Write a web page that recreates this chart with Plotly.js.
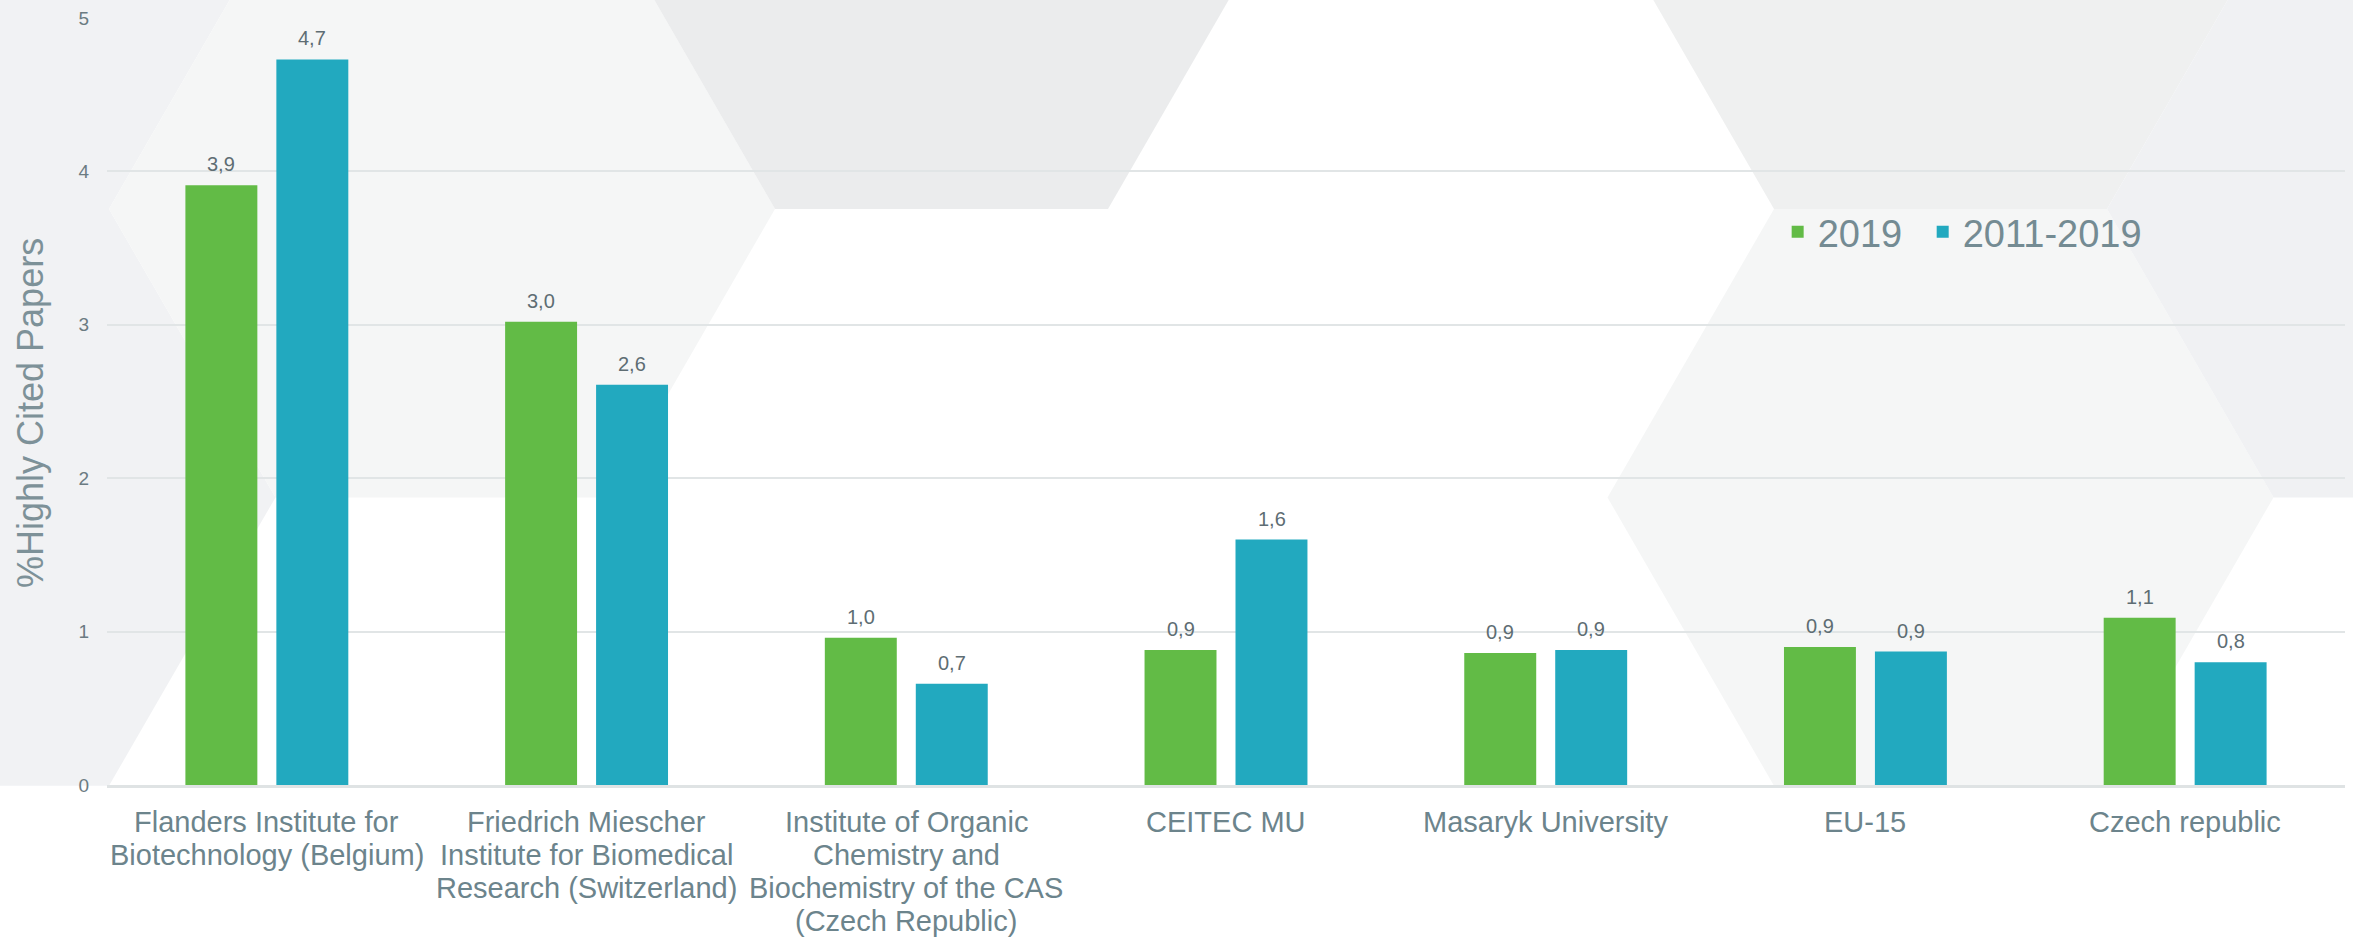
<!DOCTYPE html>
<html>
<head>
<meta charset="utf-8">
<script src="https://cdn.plot.ly/plotly-3.0.1.min.js"></script>
<style>
  html, body { margin: 0; padding: 0; background: #ffffff; }
  #chart { width: 2353px; height: 938px; }
</style>
</head>
<body>
<div id="chart"></div>
<script>
// ---- data ----
var categories = [
  "Flanders Institute for<br>Biotechnology (Belgium)",
  "Friedrich Miescher<br>Institute for Biomedical<br>Research (Switzerland)",
  "Institute of Organic<br>Chemistry and<br>Biochemistry of the CAS<br>(Czech Republic)",
  "CEITEC MU",
  "Masaryk University",
  "EU-15",
  "Czech republic"
];
var seriesNames = ["2019", "2011-2019"];
var values2019 = [3.91, 3.02, 0.96, 0.88, 0.86, 0.90, 1.09];
var values2011_2019 = [4.73, 2.61, 0.66, 1.60, 0.88, 0.87, 0.80];
var yTickVals = [0, 1, 2, 3, 4, 5];
var yTitle = "%Highly Cited Papers";

// ---- layout constants ----
var W = 2353, Hgt = 938;
var M = { l: 107, r: 8, t: 18, b: 153 };
var PW = W - M.l - M.r, PH = Hgt - M.t - M.b;
var colors = ["#62bb46", "#22a9bf"];
var labelColor = "#6c848c";
var FONT = "Liberation Sans, Arial, sans-serif";

function fmt(v) { return v.toFixed(1).replace(".", ","); }

// background hexagon decoration (pixel space -> paper space)
function px2paperX(px) { return (px - M.l) / PW; }
function px2paperY(py) { return (M.t + PH - py) / PH; }
var R = 333, hh = R * Math.sqrt(3) / 2;
function hexPath(cx, cy) {
  var pts = [[cx + R, cy], [cx + R / 2, cy + hh], [cx - R / 2, cy + hh],
             [cx - R, cy], [cx - R / 2, cy - hh], [cx + R / 2, cy - hh]];
  return pts.map(function (p, i) {
    return (i ? "L" : "M") + px2paperX(p[0]).toFixed(5) + "," + px2paperY(p[1]).toFixed(5);
  }).join("") + "Z";
}
var hexes = [
  [-1, -1, "#f1f2f4"],
  [-1,  1, "#f1f2f4"],
  [ 0,  0, "#f5f6f6"],
  [ 1, -1, "#ebeced"],
  [ 3, -1, "#eff0f0"],
  [ 3,  1, "#f5f6f6"],
  [ 4,  0, "#f0f1f3"]
];
var shapes = hexes.map(function (h) {
  var cx = 442 + 1.5 * R * h[0];
  var cy = 209 + hh * h[1];
  return { type: "path", xref: "paper", yref: "paper", layer: "below",
           path: hexPath(cx, cy), fillcolor: h[2], line: { width: 0 } };
});

var annotations = [];
// value labels above each bar
[values2019, values2011_2019].forEach(function (vals, s) {
  vals.forEach(function (v, i) {
    annotations.push({
      x: categories[i], y: v, xref: "x", yref: "y",
      text: fmt(v), showarrow: false, yanchor: "bottom",
      xshift: s === 0 ? -45.5 : 45.5, yshift: 8,
      font: { family: FONT, size: 20, color: "#5e6d73" }
    });
  });
});
// category labels, one annotation per line (tight line spacing as in the original)
categories.forEach(function (c) {
  c.split("<br>").forEach(function (line, k) {
    annotations.push({
      x: c, y: 0, xref: "x", yref: "y",
      text: line, showarrow: false, yanchor: "middle",
      yshift: -37 - 33 * k,
      font: { family: FONT, size: 29, color: labelColor }
    });
  });
});
// y axis title
annotations.push({
  x: px2paperX(31), y: px2paperY(413), xref: "paper", yref: "paper",
  text: yTitle, textangle: -90, showarrow: false,
  xanchor: "center", yanchor: "middle",
  font: { family: FONT, size: 36, color: "#7d9198" }
});

var traces = [
  { type: "bar", name: seriesNames[0], x: categories, y: values2019,
    marker: { color: colors[0] }, hoverinfo: "skip", legend: "legend" },
  { type: "bar", name: seriesNames[1], x: categories, y: values2011_2019,
    marker: { color: colors[1] }, hoverinfo: "skip", legend: "legend2" }
];

function legendAt(x) {
  return {
    orientation: "h", x: x, y: 0.721, xanchor: "left", yanchor: "middle",
    bgcolor: "rgba(0,0,0,0)",
    font: { family: FONT, size: 38, color: "#748b93" }
  };
}

var layout = {
  width: W, height: Hgt,
  margin: M,
  paper_bgcolor: "#ffffff",
  plot_bgcolor: "rgba(0,0,0,0)",
  barmode: "group",
  bargap: 0.431,
  bargroupgap: 0.209,
  font: { family: FONT, color: labelColor },
  showlegend: true,
  legend: legendAt(0.7465),
  legend2: legendAt(0.8113),
  xaxis: {
    type: "category",
    showticklabels: false,
    showgrid: false,
    showline: true, linecolor: "#dfe3e4", linewidth: 3,
    ticks: "",
    fixedrange: true
  },
  yaxis: {
    range: [0, 5],
    tickvals: yTickVals,
    tickfont: { size: 19, color: "#6b7b82" },
    gridcolor: "#e1e5e6", gridwidth: 2,
    zeroline: false,
    ticks: "", ticklabelstandoff: 17,
    fixedrange: true
  },
  shapes: shapes,
  annotations: annotations
};

Plotly.newPlot("chart", traces, layout, { displayModeBar: false, staticPlot: true });
</script>
</body>
</html>
